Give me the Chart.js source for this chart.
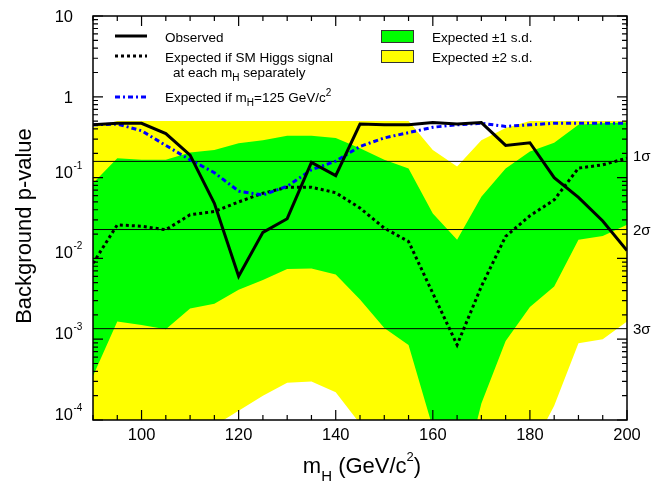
<!DOCTYPE html>
<html>
<head>
<meta charset="utf-8">
<script src="https://cdn.jsdelivr.net/npm/chart.js@4.4.0/dist/chart.umd.min.js"></script>
<style>
  html, body { margin: 0; padding: 0; background: #fff; }
  #wrap { width: 669px; height: 483px; }
</style>
</head>
<body>
<div id="wrap"><canvas id="chart" width="669" height="483"></canvas></div>
<script>
// Higgs mass hypotheses (GeV/c^2)
const masses = [90, 95, 100, 105, 110, 115, 120, 125, 130, 135, 140, 145,
                150, 155, 160, 165, 170, 175, 180, 185, 190, 195, 200];

// observed background p-value
const observed = [0.45, 0.47, 0.47, 0.35, 0.19, 0.048, 0.006, 0.021, 0.031, 0.154, 0.106, 0.46,
                  0.45, 0.45, 0.48, 0.46, 0.48, 0.25, 0.27, 0.10, 0.057, 0.029, 0.0125];
// expected if SM Higgs at each mass separately
const expectedSM = [0.0087, 0.026, 0.025, 0.0226, 0.0347, 0.038, 0.05, 0.064, 0.076, 0.076, 0.065, 0.042,
                    0.0237, 0.0162, 0.0037, 0.00085, 0.0045, 0.0187, 0.0337, 0.053, 0.131, 0.144, 0.174];
// expected if mH = 125
const expected125 = [0.45, 0.46, 0.38, 0.25, 0.166, 0.115, 0.068, 0.061, 0.078, 0.125, 0.16, 0.243,
                     0.31, 0.36, 0.42, 0.45, 0.47, 0.43, 0.45, 0.47, 0.47, 0.47, 0.47];
// expected bands
const band1Up = [0.085, 0.174, 0.166, 0.166, 0.205, 0.22, 0.267, 0.29, 0.33, 0.33, 0.31, 0.23,
                 0.166, 0.13, 0.036, 0.017, 0.058, 0.13, 0.21, 0.27, 0.45, 0.47, 0.48];
const band1Lo = [0.00035, 0.00166, 0.0015, 0.00133, 0.0024, 0.00274, 0.0041, 0.0054, 0.0074, 0.0075, 0.0063, 0.0031,
                 0.00138, 0.00085, 0.00008, 0.00001, 0.00016, 0.00095, 0.0025, 0.0045, 0.017, 0.019, 0.026];
const band2Up = [0.42, 0.5, 0.5, 0.5, 0.5, 0.5, 0.5, 0.5, 0.5, 0.5, 0.5, 0.5,
                 0.5, 0.5, 0.22, 0.137, 0.29, 0.41, 0.5, 0.5, 0.5, 0.5, 0.5];
const band2Lo = [0.00003, 0.00003, 0.00003, 0.00003, 0.00003, 0.000085, 0.00013, 0.0002, 0.00029, 0.0003, 0.00022, 0.00009,
                 0.00002, 0.00001, 0.00001, 0.00001, 0.00001, 0.00001, 0.00004, 0.00015, 0.00089, 0.001, 0.00166];

// significance reference lines (one-sided p-values)
const sigmaLevels = [0.1587, 0.02275, 0.00135];
const sigmaLabels = ['1σ', '2σ', '3σ'];

const xTicks = [100, 120, 140, 160, 180, 200];
const yTickExp = [-4, -3, -2, -1, 0, 1];

const FONT = '"Liberation Sans", Arial, Helvetica, sans-serif';

function pts(arr) {
    return masses.map((m, i) => ({ x: m, y: arr[i] }));
}

// draw text made of parts: [text, size, dy]
function drawRich(ctx, parts, x, y, align) {
    let w = 0;
    parts.forEach(p => {
        ctx.font = p[1] + 'px ' + FONT;
        w += ctx.measureText(p[0]).width;
    });
    let cx = x;
    if (align === 'right') cx = x - w;
    if (align === 'center') cx = x - w / 2;
    ctx.textAlign = 'left';
    ctx.textBaseline = 'alphabetic';
    parts.forEach(p => {
        ctx.font = p[1] + 'px ' + FONT;
        ctx.fillText(p[0], cx, y + (p[2] || 0));
        cx += ctx.measureText(p[0]).width;
    });
}

const decorations = {
    id: 'decorations',
    afterDraw(chart) {
        const ctx = chart.ctx;
        const a = chart.chartArea;
        const xs = chart.scales.x, ys = chart.scales.y;
        ctx.save();
        ctx.fillStyle = '#000';
        ctx.strokeStyle = '#000';

        // frame
        ctx.lineWidth = 1.5;
        ctx.strokeRect(a.left, a.top, a.right - a.left, a.bottom - a.top);

        // x ticks (inside, bottom and top)
        ctx.lineWidth = 1.2;
        ctx.beginPath();
        for (let m = 90; m <= 200; m += 5) {
            const px = xs.getPixelForValue(m);
            const len = (m % 20 === 0) ? 10 : 5;
            ctx.moveTo(px, a.bottom); ctx.lineTo(px, a.bottom - len);
            ctx.moveTo(px, a.top); ctx.lineTo(px, a.top + len);
        }
        // y ticks (inside, left and right)
        yTickExp.forEach(e => {
            for (let k = 1; k <= 9; k++) {
                const v = k * Math.pow(10, e);
                if (v > 10.0001) continue;
                const py = ys.getPixelForValue(v);
                const len = k === 1 ? 10 : 5;
                ctx.moveTo(a.left, py); ctx.lineTo(a.left + len, py);
                ctx.moveTo(a.right, py); ctx.lineTo(a.right - len, py);
            }
        });
        ctx.stroke();

        // x tick labels
        xTicks.forEach(m => {
            drawRich(ctx, [[String(m), 16.5]], xs.getPixelForValue(m), 440, 'center');
        });
        // y tick labels
        yTickExp.forEach(e => {
            const py = ys.getPixelForValue(Math.pow(10, e));
            if (e === 0) drawRich(ctx, [['1', 16.5]], 73, py + 6, 'right');
            else if (e === 1) drawRich(ctx, [['10', 16.5]], 73, py + 6, 'right');
            else {
                drawRich(ctx, [['10', 16.5]], 73, py, 'right');
                drawRich(ctx, [[String(e), 10]], 73.5, py - 9, 'left');
            }
        });

        // axis titles
        drawRich(ctx, [['m', 22], ['H', 15, 8], [' (GeV/c', 22], ['2', 13, -12], [')', 22]], 362, 473, 'center');
        ctx.save();
        ctx.translate(31, 226);
        ctx.rotate(-Math.PI / 2);
        drawRich(ctx, [['Background p-value', 22]], 0, 0, 'center');
        ctx.restore();

        // sigma labels
        drawRich(ctx, [[sigmaLabels[0], 15]], 633, ys.getPixelForValue(sigmaLevels[0]), 'left');
        drawRich(ctx, [[sigmaLabels[1], 15]], 633, ys.getPixelForValue(sigmaLevels[1]) + 5.5, 'left');
        drawRich(ctx, [[sigmaLabels[2], 15]], 633, ys.getPixelForValue(sigmaLevels[2]) + 5.5, 'left');

        // legend samples
        ctx.lineCap = 'butt';
        ctx.lineWidth = 3;
        ctx.setLineDash([]);
        ctx.beginPath(); ctx.moveTo(115, 36); ctx.lineTo(147, 36); ctx.stroke();
        ctx.setLineDash([3, 3]);
        ctx.beginPath(); ctx.moveTo(115, 56); ctx.lineTo(147, 56); ctx.stroke();
        ctx.strokeStyle = '#0000ff';
        ctx.setLineDash([5, 3, 2, 3]);
        ctx.beginPath(); ctx.moveTo(115, 97); ctx.lineTo(147, 97); ctx.stroke();
        ctx.setLineDash([]);

        ctx.fillStyle = '#000';
        drawRich(ctx, [['Observed', 13.5]], 165, 41.5, 'left');
        drawRich(ctx, [['Expected if SM Higgs signal', 13.5]], 165, 61.5, 'left');
        drawRich(ctx, [['at each m', 13.5], ['H', 10, 4], [' separately', 13.5]], 173, 76.5, 'left');
        drawRich(ctx, [['Expected if m', 13.5], ['H', 10, 4], ['=125 GeV/c', 13.5], ['2', 10, -6]], 165, 102, 'left');

        ctx.lineWidth = 1;
        ctx.strokeStyle = '#333';
        ctx.fillStyle = '#00ff00';
        ctx.fillRect(381, 30, 32, 12.5);
        ctx.strokeRect(381.5, 30.5, 32, 12);
        ctx.fillStyle = '#ffff00';
        ctx.fillRect(381, 50.5, 32, 12.5);
        ctx.strokeRect(381.5, 50.5, 32, 12);
        ctx.fillStyle = '#000';
        drawRich(ctx, [['Expected ±1 s.d.', 13.5]], 432, 41.5, 'left');
        drawRich(ctx, [['Expected ±2 s.d.', 13.5]], 432, 61.5, 'left');

        ctx.restore();
    }
};

const sigmaSets = sigmaLevels.map(v => ({
    data: [{ x: 90, y: v }, { x: 200, y: v }],
    borderColor: '#000',
    borderWidth: 1,
    pointRadius: 0,
    fill: false,
    order: 8
}));

new Chart(document.getElementById('chart'), {
    type: 'line',
    data: {
        datasets: [
            { data: pts(band2Up), borderWidth: 0, pointRadius: 0, fill: '+1', backgroundColor: '#ffff00', order: 10 },
            { data: pts(band2Lo), borderWidth: 0, pointRadius: 0, fill: false, order: 10 },
            { data: pts(band1Up), borderWidth: 0, pointRadius: 0, fill: '+1', backgroundColor: '#00ff00', order: 9 },
            { data: pts(band1Lo), borderWidth: 0, pointRadius: 0, fill: false, order: 9 },
            ...sigmaSets,
            { data: pts(expectedSM), borderColor: '#000', borderWidth: 3, borderDash: [3, 3], pointRadius: 0, fill: false, order: 3 },
            { data: pts(expected125), borderColor: '#0000ff', borderWidth: 3, borderDash: [5, 3, 2, 3], pointRadius: 0, fill: false, order: 2 },
            { data: pts(observed), borderColor: '#000', borderWidth: 3, pointRadius: 0, fill: false, order: 1 }
        ]
    },
    options: {
        responsive: false,
        animation: false,
        devicePixelRatio: 1,
        layout: { padding: { left: 93, right: 42, top: 16, bottom: 63 } },
        elements: { line: { tension: 0 } },
        plugins: { legend: { display: false }, tooltip: { enabled: false } },
        scales: {
            x: { type: 'linear', min: 90, max: 200, display: false },
            y: { type: 'logarithmic', min: 1e-4, max: 10, display: false }
        }
    },
    plugins: [decorations]
});
</script>
</body>
</html>
